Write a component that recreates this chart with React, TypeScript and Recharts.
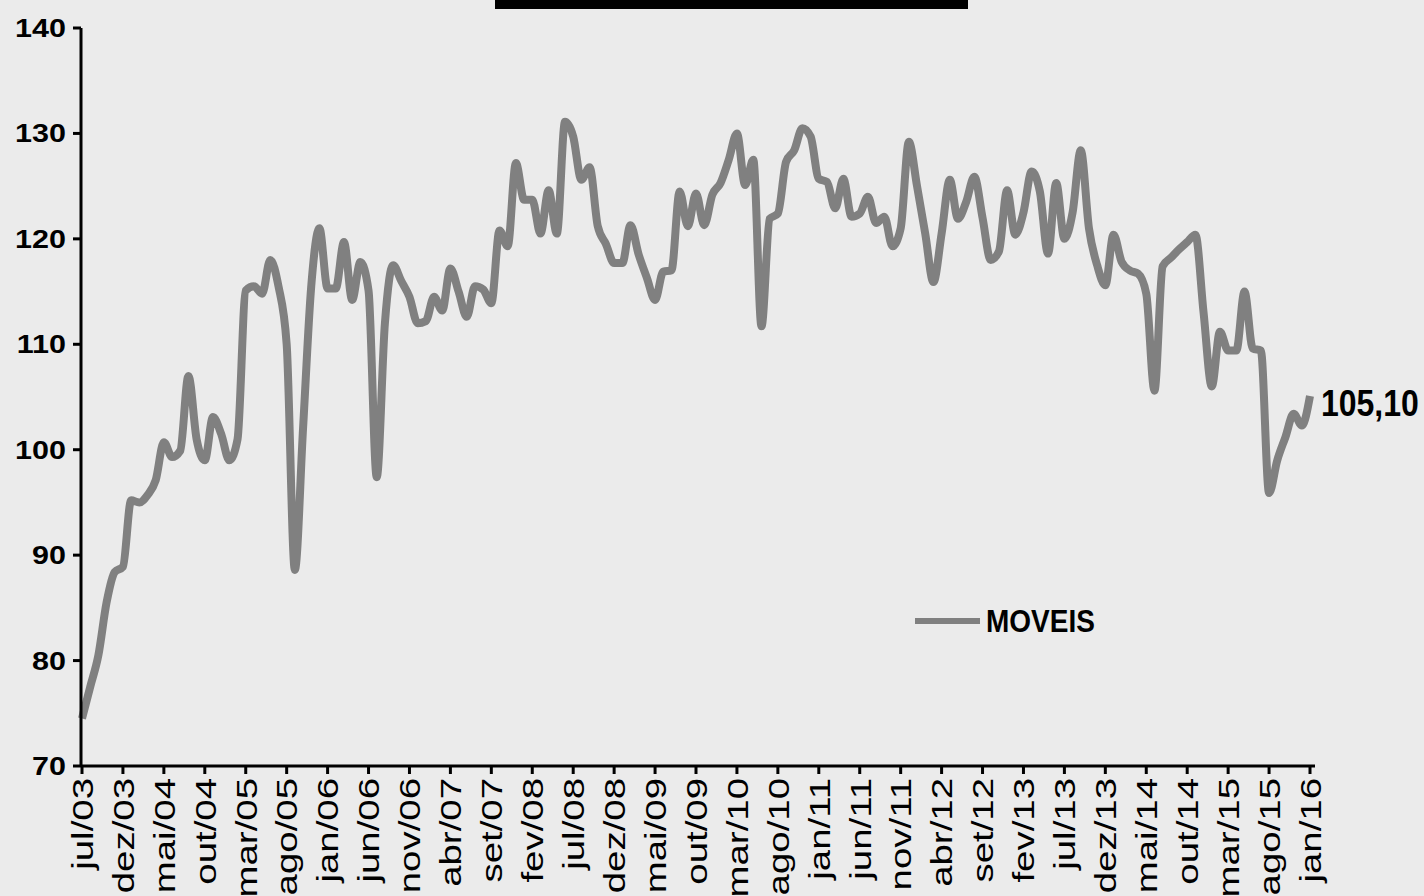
import { LineChart, Line, XAxis, YAxis } from 'recharts';

// jul/03 .. jan/16, monthly
const MONTHS = ['jan', 'fev', 'mar', 'abr', 'mai', 'jun', 'jul', 'ago', 'set', 'out', 'nov', 'dez'];
const START_YEAR = 2003;
const START_MONTH = 6; // jul

const MOVEIS = [
  74.5, 77.5, 80.5, 85.5, 88.4, 88.9, 95.2, 95.0, 95.7, 97.1,
  100.7, 99.3, 99.9, 107.0, 101.0, 99.0, 103.1, 101.5, 99.0, 101.0,
  115.1, 115.5, 114.8, 118.0, 115.5, 110.0, 88.6, 102.0, 115.5, 121.0,
  115.3, 115.3, 119.7, 114.2, 117.8, 115.1, 97.4, 112.0, 117.5, 116.0,
  114.5, 112.0, 112.2, 114.5, 113.2, 117.2, 115.0, 112.6, 115.5, 115.2,
  113.9, 120.8, 119.3, 127.2, 123.7, 123.7, 120.5, 124.6, 120.5, 131.1,
  129.7, 125.6, 126.8, 121.2, 119.5, 117.7, 117.7, 121.3, 118.5, 116.3,
  114.2, 116.9, 117.0, 124.5, 121.2, 124.3, 121.3, 124.2, 125.3, 127.5,
  130.0, 125.1, 127.5, 111.7, 121.9, 122.4, 127.3, 128.4, 130.5, 129.7,
  125.7, 125.4, 122.9, 125.7, 122.1, 122.4, 124.0, 121.5, 122.1, 119.3,
  121.0, 129.2, 125.0, 120.5, 115.9, 120.5, 125.6, 121.9, 123.5, 125.9,
  122.0, 118.0, 118.8, 124.6, 120.4, 122.5, 126.4, 124.5, 118.6, 125.3,
  120.0, 122.5, 128.4, 121.0, 117.5, 115.6, 120.4, 117.8, 117.0, 116.7,
  114.8, 105.6, 117.4, 118.2, 119.0, 119.7, 120.4, 113.0, 106.0, 111.2,
  109.4, 109.4, 115.0, 109.6, 109.4, 95.9, 99.0, 101.2, 103.4, 102.3,
  105.1,
];

const Y_TICKS = [70, 80, 90, 100, 110, 120, 130, 140];

const data = MOVEIS.map((v, i) => {
  const m = START_MONTH + i;
  const yy = String((START_YEAR + Math.floor(m / 12)) % 100).padStart(2, '0');
  return { month: `${MONTHS[m % 12]}/${yy}`, moveis: v };
});

const FONT = '"Liberation Sans", Arial, sans-serif';

const XTick = ({ x, y, payload }: any) => (
  <text
    transform={`translate(${x}, ${y}) rotate(-90) scale(1.28, 1)`}
    textAnchor="end"
    dy="0.36em"
    fontSize={30}
    fontFamily={FONT}
    fill="#000"
  >
    {payload.value}
  </text>
);

const YTick = ({ x, y, payload }: any) => (
  <text
    transform={`translate(${x}, ${y}) scale(1.22, 1)`}
    textAnchor="end"
    dy="0.36em"
    fontSize={25}
    fontWeight="bold"
    fontFamily={FONT}
    fill="#000"
  >
    {payload.value}
  </text>
);

const LastLabel = ({ x, y, index }: any) => {
  if (index !== MOVEIS.length - 1) return null;
  const txt = MOVEIS[index].toFixed(2).replace('.', ',');
  return (
    <text
      transform={`translate(${x + 11}, ${y + 20}) scale(1, 1.17)`}
      fontSize={32}
      fontWeight="bold"
      fontFamily={FONT}
      fill="#000"
    >
      {txt}
    </text>
  );
};

export default function App() {
  return (
    <div style={{ position: 'fixed', left: 0, top: 0, width: 1424, height: 896, background: '#ebebeb', overflow: 'hidden' }}>
      <div style={{ position: 'absolute', left: 495, top: 0, width: 473, height: 9, background: '#000' }} />
      <LineChart width={1424} height={896} data={data} margin={{ top: 28, right: 109, bottom: 0, left: 0 }}>
        <XAxis
          dataKey="month"
          interval={4}
          height={130}
          tick={<XTick />}
          tickSize={8}
          tickMargin={4}
          padding={{ left: 1, right: 5 }}
          axisLine={{ stroke: '#000', strokeWidth: 3 }}
          tickLine={{ stroke: '#000', strokeWidth: 3 }}
        />
        <YAxis
          domain={[70, 140]}
          ticks={Y_TICKS}
          width={81}
          tickSize={8}
          tickMargin={7}
          axisLine={{ stroke: '#000', strokeWidth: 3 }}
          tickLine={{ stroke: '#000', strokeWidth: 3 }}
          tick={<YTick />}
        />
        <Line
          type="monotone"
          dataKey="moveis"
          name="MOVEIS"
          stroke="#808080"
          strokeWidth={8}
          dot={false}
          isAnimationActive={false}
          label={<LastLabel />}
        />
      </LineChart>
      <svg style={{ position: 'absolute', left: 913, top: 604 }} width={200} height={34}>
        <line x1={2} y1={17} x2={67} y2={17} stroke="#808080" strokeWidth={6} />
        <text transform="translate(73, 28) scale(1, 1.1)" fontSize={28} fontWeight="bold" fontFamily={FONT} fill="#000">
          MOVEIS
        </text>
      </svg>
    </div>
  );
}
